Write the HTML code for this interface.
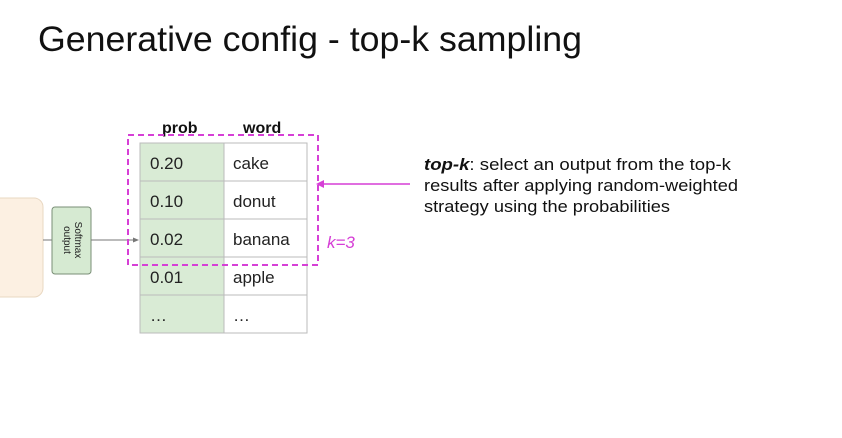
<!DOCTYPE html>
<html><head><style>
body{margin:0;background:#fff;}
svg{display:block;font-family:"Liberation Sans",sans-serif;}
</style></head><body>
<svg width="842" height="438" viewBox="0 0 842 438" xmlns="http://www.w3.org/2000/svg">
<rect width="842" height="438" fill="#fff"/>
<text x="38" y="51" font-size="35" fill="#111" textLength="544" lengthAdjust="spacingAndGlyphs">Generative config - top-k sampling</text>
<rect x="-10" y="198" width="53" height="99" rx="9" fill="#fcf0e2" stroke="#e9d8c2" stroke-width="1"/>
<line x1="43" y1="240" x2="52" y2="240" stroke="#777" stroke-width="1"/>
<rect x="52" y="207" width="39" height="67" rx="3" fill="#d6ead2" stroke="#7a8f77" stroke-width="1"/>
<text transform="translate(75,240) rotate(90)" font-size="10" text-anchor="middle" fill="#222">Softmax</text>
<text transform="translate(64,240) rotate(90)" font-size="10" text-anchor="middle" fill="#222">output</text>
<line x1="91" y1="240" x2="134" y2="240" stroke="#777" stroke-width="1"/>
<polygon points="139,240 133,237.5 133,242.5" fill="#777"/>
<rect x="140" y="143" width="84" height="190" fill="#d9ebd5"/>
<rect x="224" y="143" width="83" height="190" fill="#fff"/>
<g stroke="#bbb" stroke-width="1" fill="none">
<rect x="140" y="143" width="167" height="190"/>
<line x1="224" y1="143" x2="224" y2="333"/>
<line x1="140" y1="181" x2="307" y2="181"/>
<line x1="140" y1="219" x2="307" y2="219"/>
<line x1="140" y1="257" x2="307" y2="257"/>
<line x1="140" y1="295" x2="307" y2="295"/>
</g>
<text x="162" y="133" font-size="16" font-weight="bold" fill="#111">prob</text>
<text x="243" y="133" font-size="16" font-weight="bold" fill="#111">word</text>
<g font-size="17" fill="#222">
<text x="150" y="169">0.20</text><text x="233" y="169">cake</text>
<text x="150" y="207">0.10</text><text x="233" y="207">donut</text>
<text x="150" y="245">0.02</text><text x="233" y="245">banana</text>
<text x="150" y="283">0.01</text><text x="233" y="283">apple</text>
<text x="150" y="321">…</text><text x="233" y="321">…</text>
</g>
<rect x="128" y="135" width="190" height="130" fill="none" stroke="#d63fd6" stroke-width="2" stroke-dasharray="6,4"/>
<text x="327" y="248" font-size="17" font-style="italic" fill="#d63fd6">k=3</text>
<line x1="410" y1="184" x2="322" y2="184" stroke="#d63fd6" stroke-width="1.5"/>
<polygon points="316,184 324,180 324,188" fill="#d63fd6"/>
<g font-size="17" fill="#111">
<text x="424" y="170" textLength="307" lengthAdjust="spacingAndGlyphs"><tspan font-weight="bold" font-style="italic">top-k</tspan>: select an output from the top-k</text>
<text x="424" y="191" textLength="314" lengthAdjust="spacingAndGlyphs">results after applying random-weighted</text>
<text x="424" y="212" textLength="246" lengthAdjust="spacingAndGlyphs">strategy using the probabilities</text>
</g>
</svg>
</body></html>
